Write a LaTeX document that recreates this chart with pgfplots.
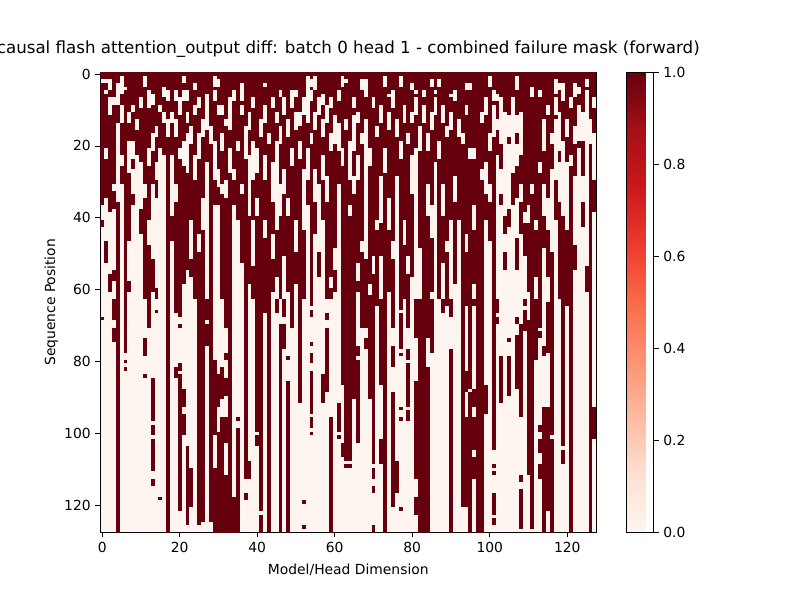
\documentclass[border=0pt]{standalone}
\usepackage{pgfplots}
\pgfplotsset{compat=1.18}
\usepackage{pgfplotstable}
\usepackage{fontspec}
\setmainfont{DejaVu Sans}
\newlength\px \setlength\px{0.75pt}
\definecolor{rdark}{RGB}{103,0,13}
\definecolor{rlight}{RGB}{255,245,240}
% dark runs (value 1): column, first row, last row
\pgfplotstableread{
c a b
0 0 1
0 3 36
0 41 42
0 68 68
1 0 4
1 6 20
1 24 34
1 47 52
2 0 2
2 5 8
2 12 38
2 56 60
3 0 6
3 9 30
3 33 37
3 55 57
3 63 68
3 71 74
4 0 2
4 9 13
4 36 127
5 0 8
5 14 22
5 26 30
6 0 3
6 5 77
6 80 80
6 82 82
7 0 10
7 14 18
7 28 46
7 58 60
8 0 18
8 24 26
8 34 36
9 0 12
9 16 22
10 0 6
10 10 24
10 38 44
11 0 30
11 35 62
11 74 78
11 84 84
12 0 20
12 26 40
12 48 70
13 0 16
13 22 30
13 52 60
13 85 96
13 98 100
13 102 110
13 113 114
14 0 14
14 18 24
14 30 34
14 60 62
14 66 66
15 0 8
15 11 20
15 118 118
16 0 10
16 14 22
17 0 4
17 8 12
17 18 127
18 0 10
18 14 22
18 40 46
19 0 12
19 18 30
19 36 66
19 82 84
20 0 6
20 12 20
20 24 67
20 70 70
20 81 82
20 84 121
21 0 4
21 8 18
21 26 58
21 88 92
21 95 100
22 0 10
22 14 16
22 28 54
22 104 125
23 0 14
23 20 40
23 52 56
23 110 120
24 0 8
24 12 22
24 30 62
25 0 6
25 10 16
25 24 44
25 50 125
26 0 12
26 18 34
26 44 124
27 0 10
27 16 24
27 63 68
27 70 75
28 0 14
28 20 124
29 0 4
29 8 18
29 30 36
29 80 100
29 110 127
30 0 8
30 12 26
30 32 36
30 84 92
30 100 127
31 0 16
31 22 30
31 34 62
31 82 90
31 96 127
32 0 12
32 15 29
32 35 70
32 78 79
32 85 89
32 96 102
32 112 127
33 0 6
33 10 20
33 28 127
34 0 4
34 8 26
34 30 36
34 118 127
35 0 18
35 22 40
35 96 96
35 99 127
36 0 8
36 12 30
36 34 52
37 0 14
37 24 112
37 117 118
38 0 10
38 16 22
38 40 58
38 108 112
39 0 6
39 10 18
39 30 40
39 54 62
40 0 20
40 28 34
40 40 99
40 101 103
41 0 12
41 18 121
41 123 127
42 0 8
42 14 22
42 30 40
42 46 66
43 0 16
43 20 127
44 0 6
44 10 24
44 36 44
44 52 60
45 0 10
45 14 18
45 44 56
45 63 66
46 0 14
46 20 30
46 40 62
46 70 127
47 0 6
47 12 26
47 34 50
47 63 67
47 70 76
48 0 12
48 18 34
48 40 60
48 79 79
48 86 103
48 104 127
49 0 4
49 10 20
49 26 70
50 0 10
50 16 40
50 50 58
51 0 18
51 24 91
52 0 6
52 12 26
52 44 62
52 119 119
52 126 126
53 0 8
53 14 20
53 30 36
54 0 4
54 8 16
54 20 64
54 66 67
54 75 75
54 78 80
54 83 94
54 96 98
54 100 100
55 0 10
55 16 26
55 36 44
56 0 6
56 12 30
56 50 56
57 0 12
57 18 22
57 30 40
57 84 91
58 0 8
58 14 28
58 36 62
58 67 68
58 71 88
59 0 6
59 10 16
59 22 56
59 60 62
59 96 127
60 0 14
60 20 48
60 55 60
61 0 4
61 8 30
61 92 99
61 101 101
62 0 20
62 26 86
62 103 106
63 0 12
63 16 107
63 109 109
64 0 18
64 30 36
64 40 107
64 109 109
65 0 6
65 10 28
65 34 90
66 0 10
66 14 22
66 30 52
66 58 60
66 76 78
66 80 102
67 0 16
67 20 46
67 50 70
68 0 12
68 52 70
68 74 76
69 0 20
69 26 58
69 62 90
70 0 6
70 10 50
70 56 108
70 110 112
70 115 116
70 126 127
71 0 14
71 18 40
71 44 64
72 0 8
72 14 28
72 42 50
72 63 86
72 102 108
73 0 20
73 28 127
74 0 10
74 16 34
74 44 60
75 0 4
75 10 46
75 52 70
75 76 81
75 89 91
75 92 99
75 100 120
76 0 12
76 18 28
76 108 116
77 0 18
77 24 65
77 67 70
77 71 76
77 78 78
77 93 93
77 96 96
77 121 121
78 0 8
78 14 40
78 48 62
79 0 16
79 20 50
79 56 70
79 77 79
79 81 84
79 85 87
79 88 92
79 94 96
80 0 10
80 14 22
80 34 56
81 0 6
81 12 20
81 63 73
81 86 112
81 118 122
82 0 14
82 22 48
82 63 127
83 0 8
83 14 127
84 0 16
84 22 30
84 40 73
84 82 127
85 0 10
85 16 36
85 46 60
85 63 77
86 0 6
86 12 24
87 0 18
87 24 62
88 0 8
88 14 30
88 40 52
88 63 66
89 0 14
89 18 46
89 50 64
90 0 10
90 16 40
90 63 67
90 77 127
91 0 4
91 8 28
91 36 58
92 0 12
92 18 40
93 0 16
93 20 120
94 0 8
94 12 44
94 50 64
94 83 88
94 96 120
95 0 20
95 24 87
95 89 127
96 0 20
96 24 36
96 44 58
96 63 64
96 88 92
96 96 104
96 107 112
97 0 127
98 0 10
98 14 26
98 30 127
99 0 6
99 12 24
99 34 40
99 87 94
100 0 16
100 22 30
100 36 46
101 0 8
101 18 104
101 109 109
101 111 111
101 117 122
101 124 125
102 0 12
102 16 22
102 63 66
102 68 69
103 0 6
103 20 26
103 34 36
103 79 91
104 0 10
104 14 20
104 40 44
104 50 54
105 0 14
105 18 24
105 38 42
105 74 74
105 79 89
106 0 6
106 12 22
106 28 36
107 0 20
107 26 34
107 46 54
107 68 69
107 73 87
108 0 10
108 14 30
108 36 44
108 70 95
108 112 113
108 116 126
109 0 38
109 42 50
109 63 64
109 66 71
110 0 36
110 42 60
110 69 111
111 0 30
111 34 126
112 0 40
112 44 56
112 63 79
113 0 24
113 28 70
113 72 73
113 98 99
113 102 105
113 109 112
114 0 12
114 16 30
114 40 48
114 76 78
114 93 127
115 0 8
115 12 34
115 44 56
115 64 77
115 93 121
116 0 16
116 20 26
116 50 100
116 102 103
116 104 107
116 108 109
116 110 112
116 113 127
117 0 6
117 12 20
117 30 40
118 0 10
118 16 24
118 36 62
119 0 4
119 8 18
119 40 103
119 105 108
120 0 12
120 18 24
120 44 64
121 0 6
121 10 22
121 26 127
122 0 14
122 20 28
122 48 54
123 0 8
123 12 20
124 0 10
124 14 28
124 36 42
125 0 4
125 8 18
125 54 60
126 0 12
126 20 127
127 0 6
127 10 16
127 30 38
127 93 101
}\darkruns
% light cells (value 0) inside the dense top band
\pgfplotstableread{
c a b
1 2 2
2 2 2
2 7 9
3 7 8
5 1 5
8 9 10
11 1 3
12 5 9
13 6 8
16 4 6
19 5 7
21 1 2
22 5 7
24 3 4
27 6 13
29 1 3
30 2 3
31 9 11
33 9 15
36 3 7
39 7 8
42 3 3
46 5 6
50 5 6
51 11 14
53 1 8
54 2 3
55 1 4
56 7 9
57 6 8
60 12 19
61 14 21
62 1 3
63 2 2
65 12 21
67 2 4
68 2 6
73 1 3
74 6 6
77 1 3
80 3 4
81 5 5
83 5 6
85 2 3
86 5 5
87 2 3
90 6 6
94 3 4
95 3 4
100 1 3
101 5 7
102 6 7
104 14 20
105 12 16
105 20 24
106 12 22
107 1 4
107 12 16
107 20 22
108 14 22
111 4 6
113 5 6
114 16 21
117 2 5
117 13 20
118 3 4
118 16 21
119 3 5
122 3 6
123 4 5
123 12 18
124 14 18
125 2 3
125 8 18
}\lightruns
\begin{document}
\begin{tikzpicture}
\fill[white] (-100.3\px,-67.5\px) rectangle (699.7\px,532.5\px);
\useasboundingbox (-100.3\px,-67.5\px) rectangle (699.7\px,532.5\px);
\begin{axis}[
  at={(0,0)}, anchor=south west, scale only axis,
  width=496\px, height=460.3\px,
  xmin=-0.5, xmax=127.5, ymin=-0.5, ymax=127.5, y dir=reverse,
  axis background/.style={fill=rlight},
  xtick={0,20,...,120}, ytick={0,20,...,120},
  tick align=outside, xtick pos=left, ytick pos=left,
  major tick length=4.9\px,
  tick style={line width=0.6pt, black},
  axis line style={line width=0.6pt},
  ticklabel style={font=\fontsize{10.4}{12}\selectfont},
  /pgf/number format/assume math mode=true,
  xlabel={Model/Head Dimension}, ylabel={Sequence Position},
  label style={font=\fontsize{10.4}{12}\selectfont},
  xlabel style={at={(axis description cs:0.5,-0.0923)}, anchor=base},
  ylabel style={at={(axis description cs:-0.0913,0.5)}, anchor=base},
  title={causal flash attention\_output diff: batch 0 head 1 - combined failure mask (forward)},
  title style={at={(axis description cs:0.5,1.0239)}, anchor=base, font=\fontsize{12.5}{14}\selectfont, inner sep=0pt},
  colormap={reds}{rgb255=(255,245,240) rgb255=(254,224,210) rgb255=(252,187,161) rgb255=(252,146,114) rgb255=(251,106,74) rgb255=(239,59,44) rgb255=(203,24,29) rgb255=(165,15,21) rgb255=(103,0,13)},
  point meta min=0, point meta max=1,
  colorbar,
  colorbar style={
    at={(parent axis.north east)}, anchor=north west, xshift=19\px,
    scale only axis, width=27\px,
    ytick={0,0.2,0.4,0.6,0.8,1},
    ytick pos=right, yticklabel pos=right, tick align=outside,
    major tick length=4.9\px,
    yticklabel style={font=\fontsize{10.4}{12}\selectfont, /pgf/number format/.cd, fixed, fixed zerofill, precision=1, assume math mode=true},
  },
]
\addplot[draw=none, mark=none,
  error bars/.cd, y dir=both, y explicit, error mark=none,
  error bar style={line width=2.95pt, draw=rdark}]
  table[x=c, y expr={(\thisrow{a}+\thisrow{b})/2}, y error expr={(\thisrow{b}-\thisrow{a})/2+0.5}] {\darkruns};
\addplot[draw=none, mark=none,
  error bars/.cd, y dir=both, y explicit, error mark=none,
  error bar style={line width=2.95pt, draw=rlight}]
  table[x=c, y expr={(\thisrow{a}+\thisrow{b})/2}, y error expr={(\thisrow{b}-\thisrow{a})/2+0.5}] {\lightruns};
\end{axis}
\end{tikzpicture}
\end{document}
